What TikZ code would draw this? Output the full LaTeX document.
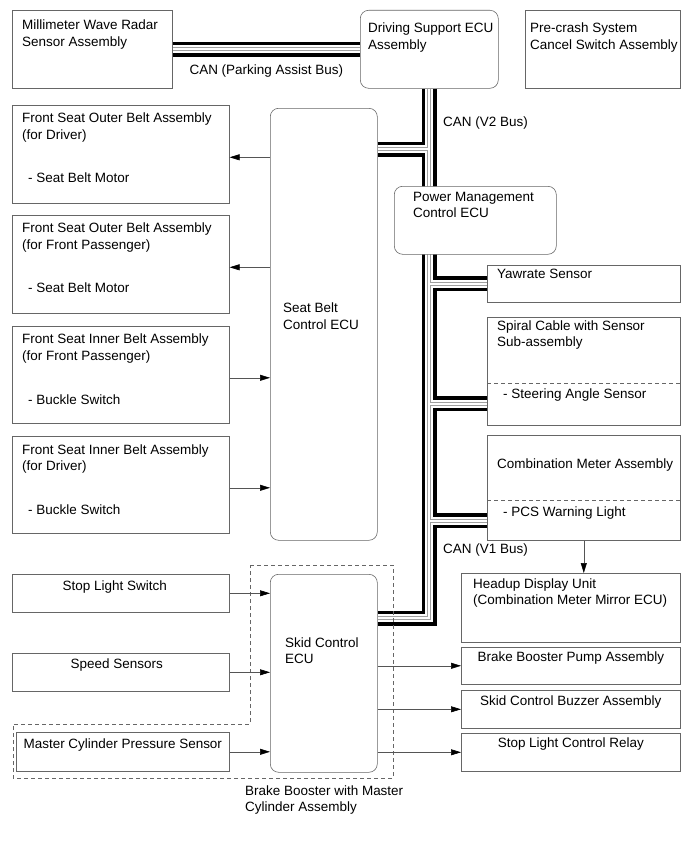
\documentclass[tikz,border=0pt]{standalone}
\usepackage{fontspec}
\setmainfont{Liberation Sans}
\usetikzlibrary{arrows.meta, positioning, calc}
\usepackage{xcolor}
\definecolor{boxline}{HTML}{666666}
\definecolor{wire}{HTML}{555555}
\definecolor{pairgray}{HTML}{A0A0A0}
\newlength{\pu}\setlength{\pu}{0.3mm}

\begin{document}
\begin{tikzpicture}[x=0.3mm, y=-0.3mm,
    every node/.style={font=\fontsize{11.5}{13.7}\selectfont},
    box/.style={draw=boxline, fill=white, line width=0.5pt, anchor=north west, inner sep=0pt},
    ecu/.style={box, rounded corners=2.5mm},
    txt/.style={anchor=north west, inner sep=0pt, align=left},
    ctxt/.style={anchor=north, inner sep=0pt},
    sep/.style={draw=boxline, line width=0.5pt, dash pattern=on 1.2mm off 0.9mm},
    arr/.style={draw=wire, line width=0.5pt, -{Triangle[length=3mm, width=1.8mm, color=black, fill=black]}}
]
    \useasboundingbox (0,0) rectangle (690,853);

    % top row
    \node[box, minimum width=160\pu, minimum height=78\pu] (radar) at (12,10) {};
    \node[ecu, minimum width=138\pu, minimum height=78\pu] (dsecu) at (360,10) {};
    \node[box, minimum width=155\pu, minimum height=78\pu] (pcsw) at (525,10) {};

    % seat belt side
    \node[ecu, minimum width=107\pu, minimum height=432\pu] (seatecu) at (270,108) {};
    \node[box, minimum width=217\pu, minimum height=98\pu] (fsodrv) at (12,105) {};
    \node[box, minimum width=217\pu, minimum height=98\pu] (fsopas) at (12,215) {};
    \node[box, minimum width=217\pu, minimum height=97\pu] (fsipas) at (12,326) {};
    \node[box, minimum width=217\pu, minimum height=97\pu] (fsidrv) at (12,436) {};

    % skid control side
    \node[ecu, minimum width=107\pu, minimum height=198\pu] (skidecu) at (270,574) {};
    \node[box, minimum width=217\pu, minimum height=38\pu] (stopsw) at (12,574) {};
    \node[box, minimum width=217\pu, minimum height=38\pu] (speed) at (12,653) {};
    \node[box, minimum width=213\pu, minimum height=39\pu] (mcps) at (16,732) {};

    % right column
    \node[box, minimum width=193\pu, minimum height=37\pu] (yaw) at (487,265) {};
    \node[box, minimum width=193\pu, minimum height=108\pu] (spiral) at (487,317) {};
    \node[box, minimum width=193\pu, minimum height=105\pu] (combi) at (487,435) {};
    \node[box, minimum width=219\pu, minimum height=69\pu] (hud) at (461,573) {};
    \node[box, minimum width=219\pu, minimum height=37\pu] (pump) at (461,647) {};
    \node[box, minimum width=219\pu, minimum height=38\pu] (buzzer) at (461,690) {};
    \node[box, minimum width=219\pu, minimum height=38\pu] (relay) at (461,733) {};

    % CAN buses
    \coordinate (seatIn) at ($(seatecu.north east)+(0,41)$);
    \coordinate (skidIn) at ($(skidecu.north east)+(0,44)$);
    \coordinate (spiralIn) at ($(spiral.south west)+(0,-22)$);
    \coordinate (combiIn) at ($(combi.south west)+(0,-20)$);
    \foreach \w/\c in {4.5mm/black, 2.4mm/white, 1.2mm/pairgray, 0.6mm/white}
        \draw[line width=\w, draw=\c]
            (radar.east) -- (dsecu.west)
            (dsecu.south) |- (skidIn)
            (seatIn) -- (seatIn -| dsecu.south)
            (yaw.west) -- (yaw.west -| dsecu.south)
            (spiralIn) -- (spiralIn -| dsecu.south)
            (combiIn) -- (combiIn -| dsecu.south);

    \node[ecu, minimum width=162\pu, minimum height=68\pu] (pmecu) at (394,186) {};

    % dividers
    \draw[sep] ($(spiral.north west)+(0,66)$) -- ($(spiral.north east)+(0,66)$);
    \draw[sep] ($(combi.north west)+(0,65)$) -- ($(combi.north east)+(0,65)$);

    % brake booster group
    \draw[sep] (250,565) -- (393,565) -- (393,778) -- (13,778) -- (13,724) -- (250,724) -- cycle;

    % texts
    \node[txt] (radarT) at ($(radar.north west)+(10,10)$) {Millimeter Wave Radar\\Sensor Assembly};
    \node[txt] (dsecuT) at ($(dsecu.north west)+(8,13)$) {Driving Support ECU\\Assembly};
    \node[txt] (pcswT) at ($(pcsw.north west)+(5,13)$) {Pre-crash System\\Cancel Switch Assembly};
    \node (canP) at ($(radar.east)!0.5!(dsecu.west)+(0,22)$) {CAN (Parking Assist Bus)};
    \node[txt] (canV2) at (443,117) {CAN (V2 Bus)};
    \node[txt] (canV1) at (443,543) {CAN (V1 Bus)};

    \node[txt] (seatT) at ($(seatecu.north west)+(13,195)$) {Seat Belt\\Control ECU};
    \node[txt] (fsodrvT) at ($(fsodrv.north west)+(10,8)$) {Front Seat Outer Belt Assembly\\(for Driver)};
    \node[txt] (fsodrvS) at ($(fsodrv.north west)+(16,68)$) {- Seat Belt Motor};
    \node[txt] (fsopasT) at ($(fsopas.north west)+(10,8)$) {Front Seat Outer Belt Assembly\\(for Front Passenger)};
    \node[txt] (fsopasS) at ($(fsopas.north west)+(16,68)$) {- Seat Belt Motor};
    \node[txt] (fsipasT) at ($(fsipas.north west)+(10,8)$) {Front Seat Inner Belt Assembly\\(for Front Passenger)};
    \node[txt] (fsipasS) at ($(fsipas.north west)+(16,68)$) {- Buckle Switch};
    \node[txt] (fsidrvT) at ($(fsidrv.north west)+(10,8)$) {Front Seat Inner Belt Assembly\\(for Driver)};
    \node[txt] (fsidrvS) at ($(fsidrv.north west)+(16,68)$) {- Buckle Switch};

    \node[txt] (pmecuT) at ($(pmecu.north west)+(19,6)$) {Power Management\\Control ECU};
    \node[txt] (yawT) at ($(yaw.north west)+(10,4)$) {Yawrate Sensor};
    \node[txt] (spiralT) at ($(spiral.north west)+(10,3)$) {Spiral Cable with Sensor\\Sub-assembly};
    \node[txt] (spiralS) at ($(spiral.north west)+(16,71)$) {- Steering Angle Sensor};
    \node[txt] (combiT) at ($(combi.north west)+(10,23)$) {Combination Meter Assembly};
    \node[txt] (combiS) at ($(combi.north west)+(16,71)$) {- PCS Warning Light};
    \node[txt] (hudT) at ($(hud.north west)+(12,5)$) {Headup Display Unit\\(Combination Meter Mirror ECU)};
    \node[ctxt] (pumpT) at ($(pump.north)+(0,4)$) {Brake Booster Pump Assembly};
    \node[ctxt] (buzzerT) at ($(buzzer.north)+(0,5)$) {Skid Control Buzzer Assembly};
    \node[ctxt] (relayT) at ($(relay.north)+(0,4)$) {Stop Light Control Relay};

    \node[txt] (skidT) at ($(skidecu.north west)+(15,63)$) {Skid Control\\ECU};
    \node[ctxt] (stopswT) at ($(stopsw.north)+(-6,6)$) {Stop Light Switch};
    \node[ctxt] (speedT) at ($(speed.north)+(-4,5)$) {Speed Sensors};
    \node[ctxt] (mcpsT) at ($(mcps.north)+(0,6)$) {Master Cylinder Pressure Sensor};
    \node[txt] (bbT) at (245,785) {Brake Booster with Master\\Cylinder Assembly};

    % signal lines
    \draw[arr] ($(seatecu.west |- fsodrv.east)+(0,3)$) -- ($(fsodrv.east)+(0,3)$);
    \draw[arr] ($(seatecu.west |- fsopas.east)+(0,3)$) -- ($(fsopas.east)+(0,3)$);
    \draw[arr] ($(fsipas.east)+(0,3)$) -- ($(seatecu.west |- fsipas.east)+(0,3)$);
    \draw[arr] ($(fsidrv.east)+(0,3)$) -- ($(seatecu.west |- fsidrv.east)+(0,3)$);
    \draw[arr] (stopsw.east) -- (skidecu.west |- stopsw.east);
    \draw[arr] (speed.east) -- (skidecu.west |- speed.east);
    \draw[arr] (mcps.east) -- (skidecu.west |- mcps.east);
    \draw[arr] (skidecu.east |- pump.west) -- (pump.west);
    \draw[arr] (skidecu.east |- buzzer.west) -- (buzzer.west);
    \draw[arr] (skidecu.east |- relay.west) -- (relay.west);
    \draw[arr] (combi.south) -- (combi.south |- hud.north);
\end{tikzpicture}
\end{document}
